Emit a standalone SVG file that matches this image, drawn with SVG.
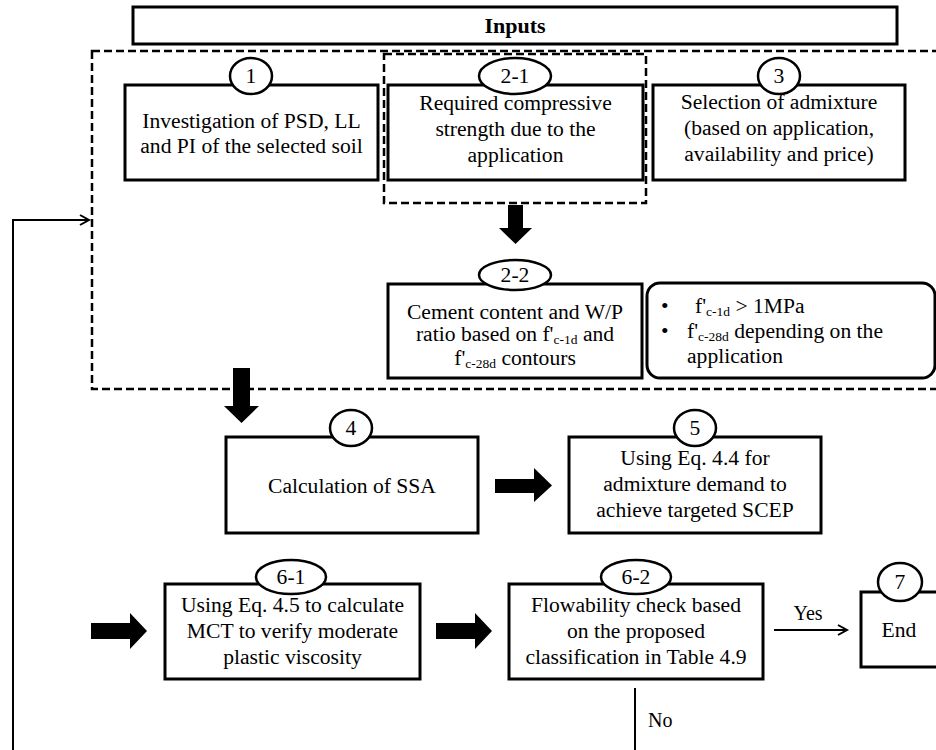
<svg xmlns="http://www.w3.org/2000/svg" width="936" height="750" viewBox="0 0 936 750" font-family="'Liberation Serif', 'DejaVu Serif', serif">
<defs>
<style>
text{font-family:'Liberation Serif','DejaVu Serif',serif;fill:#000}
.t{font-size:21.6px;text-anchor:middle}
.l{font-size:21.6px}
.s{font-size:13.5px}
.box{fill:#fff;stroke:#000;stroke-width:3}
.num{fill:#fff;stroke:#000;stroke-width:2.5}
.dash{fill:none;stroke:#000;stroke-width:2.5;stroke-dasharray:8 4}
.blk{fill:#000;stroke:none}
.ln{fill:none;stroke:#000;stroke-width:2}
.hd{font-size:22px;font-weight:bold}
.sm{font-size:20px}
</style>
<marker id="open" markerUnits="userSpaceOnUse" markerWidth="14" markerHeight="14" refX="10" refY="6" orient="auto">
<path d="M1,1 L10,6 L1,11" fill="none" stroke="#000" stroke-width="2"/>
</marker>
</defs>
<rect width="936" height="750" fill="#fff"/>

<g id="inputs">
<rect class="box" x="133" y="7" width="764" height="37"/>
<text class="t hd" x="515" y="33">Inputs</text>
</g>

<g id="inputs-group">
<rect class="dash" x="92" y="51" width="860" height="338"/>
</g>

<g id="group-2-1">
<rect class="dash" x="384" y="54" width="262" height="149"/>
</g>

<g id="node-1">
<rect class="box" x="125" y="85" width="253" height="95"/>
<ellipse class="num" cx="251" cy="76" rx="21" ry="18"/>
<text class="t" x="251" y="83">1</text>
<text class="t" x="251.5" y="128">Investigation of PSD, LL</text>
<text class="t" x="251.5" y="153">and PI of the selected soil</text>
</g>

<g id="node-2-1">
<rect class="box" x="388" y="85" width="255" height="95"/>
<ellipse class="num" cx="515" cy="76" rx="36" ry="18"/>
<text class="t" x="515" y="83">2-1</text>
<text class="t" x="515.5" y="110">Required compressive</text>
<text class="t" x="515.5" y="136">strength due to the</text>
<text class="t" x="515.5" y="162">application</text>
</g>

<g id="node-3">
<rect class="box" x="653" y="85" width="252" height="95"/>
<ellipse class="num" cx="779" cy="76" rx="21" ry="18"/>
<text class="t" x="779" y="83">3</text>
<text class="t" x="779" y="109">Selection of admixture</text>
<text class="t" x="779" y="135">(based on application,</text>
<text class="t" x="779" y="161">availability and price)</text>
</g>

<g id="node-2-2">
<rect class="box" x="388" y="284" width="254" height="94"/>
<ellipse class="num" cx="515" cy="275" rx="36" ry="15"/>
<text class="t" x="515" y="282">2-2</text>
<text class="t" x="515" y="319">Cement content and W/P</text>
<text class="t" x="515" y="341">ratio based on f'<tspan class="s" dy="3">c-1d</tspan><tspan dy="-3"> and</tspan></text>
<text class="t" x="515" y="365">f'<tspan class="s" dy="3">c-28d</tspan><tspan dy="-3"> contours</tspan></text>
</g>

<g id="note">
<rect class="box" x="647" y="283" width="288" height="95" rx="13" ry="13"/>
<text class="l" x="661" y="313">•</text>
<text class="l" x="695" y="313">f'<tspan class="s" dy="3">c-1d</tspan><tspan dy="-3"> &gt; 1MPa</tspan></text>
<text class="l" x="661" y="338">•</text>
<text class="l" x="687" y="338">f'<tspan class="s" dy="3">c-28d</tspan><tspan dy="-3"> depending on the</tspan></text>
<text class="l" x="687" y="363">application</text>
</g>

<g id="node-4">
<rect class="box" x="226" y="437" width="252" height="96"/>
<ellipse class="num" cx="351" cy="428" rx="21" ry="18"/>
<text class="t" x="351" y="435">4</text>
<text class="t" x="352" y="493">Calculation of SSA</text>
</g>

<g id="node-5">
<rect class="box" x="569" y="437" width="252" height="96"/>
<ellipse class="num" cx="695" cy="428" rx="21" ry="18"/>
<text class="t" x="695" y="435">5</text>
<text class="t" x="695" y="465">Using Eq. 4.4 for</text>
<text class="t" x="695" y="491">admixture demand to</text>
<text class="t" x="695" y="517">achieve targeted SCEP</text>
</g>

<g id="node-6-1">
<rect class="box" x="165" y="584" width="255" height="95"/>
<ellipse class="num" cx="291" cy="577" rx="35" ry="17"/>
<text class="t" x="291" y="584">6-1</text>
<text class="t" x="292.5" y="612">Using Eq. 4.5 to calculate</text>
<text class="t" x="292.5" y="638">MCT to verify moderate</text>
<text class="t" x="292.5" y="664">plastic viscosity</text>
</g>

<g id="node-6-2">
<rect class="box" x="509" y="584" width="254" height="95"/>
<ellipse class="num" cx="636" cy="577" rx="35" ry="17"/>
<text class="t" x="636" y="584">6-2</text>
<text class="t" x="636" y="612">Flowability check based</text>
<text class="t" x="636" y="638">on the proposed</text>
<text class="t" x="636" y="664">classification in Table 4.9</text>
</g>

<g id="node-7">
<rect class="box" x="861" y="592" width="90" height="75"/>
<ellipse class="num" cx="900" cy="582" rx="22" ry="19"/>
<text class="t" x="900" y="589">7</text>
<text class="t" x="899" y="637">End</text>
</g>

<g id="connectors">
<polygon class="blk" points="508,205 523,205 523,228 532,228 515.5,244 499,228 508,228"/>
<polygon class="blk" points="233,368 250,368 250,406 259,406 241.5,423 224,406 233,406"/>
<polygon class="blk" points="495,479 534,479 534,468 552,485.5 534,502 534,493 495,493"/>
<polygon class="blk" points="91,623 130,623 130,613 147,631 130,649 130,639 91,639"/>
<polygon class="blk" points="436,623 475,623 475,613 492,631 475,649 475,639 436,639"/>
<path class="ln" d="M774,630 H847" marker-end="url(#open)"/>
<text class="t sm" x="808" y="620">Yes</text>
<path class="ln" d="M13,752 V220 H89" marker-end="url(#open)"/>
<path class="ln" d="M635,688 V752" stroke-width="1.5"/>
<text class="l sm" x="648" y="727">No</text>
</g>
</svg>
